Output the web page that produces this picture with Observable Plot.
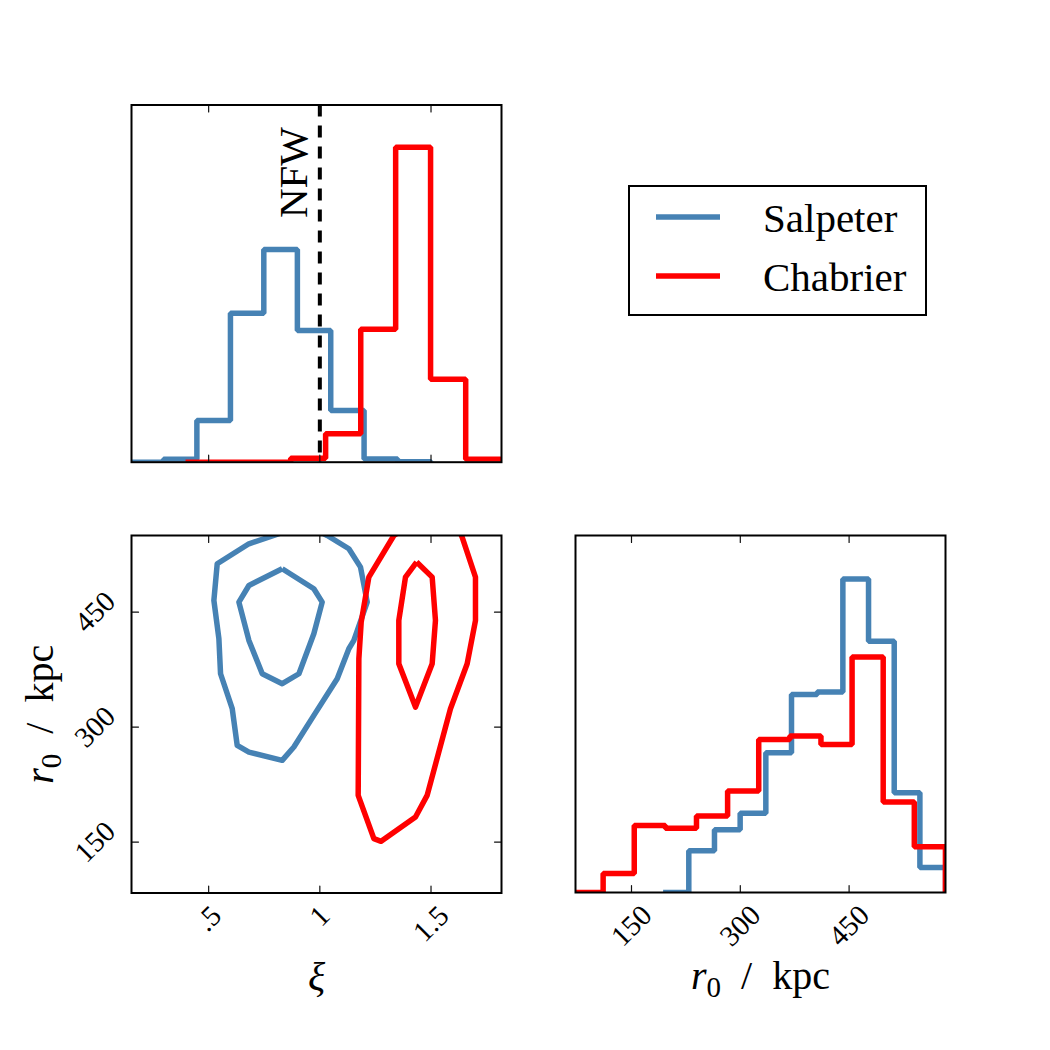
<!DOCTYPE html>
<html>
<head>
<meta charset="utf-8">
<script src="https://cdn.jsdelivr.net/npm/d3@7"></script>
<script src="https://cdn.jsdelivr.net/npm/@observablehq/plot@0.6"></script>
<style>
  html, body { margin: 0; padding: 0; background: #fff; }
  #chart { position: relative; width: 1050px; height: 1050px; background: #fff; }
  #chart > svg { position: absolute; left: 0; top: 0; }
</style>
</head>
<body>
<div id="chart"></div>
<script>
// ---------------- data ----------------
const seriesNames = ["Salpeter", "Chabrier"];
const seriesColors = ["#4682b4", "#ff0000"];

// ξ histogram (bin edges, relative heights)
const xiEdgesSalpeter = [0.146, 0.297, 0.447, 0.598, 0.748, 0.899, 1.049, 1.199, 1.350, 1.500];
const xiHistSalpeter  = [0, 0.0095, 0.132, 0.473, 0.675, 0.418, 0.164, 0.0105, 0.0016];
const xiEdgesChabrier = [0.396, 0.554, 0.711, 0.869, 1.026, 1.184, 1.341, 1.498, 1.656, 1.813];
const xiHistChabrier  = [0, 0, 0, 0.0127, 0.09, 0.422, 1.0, 0.263, 0.0095];

// r0 histogram (bin edges in kpc, relative heights)
const r0EdgesSalpeter = [193.6, 229, 264.4, 299.8, 335.2, 370.6, 406, 441.4, 476.8, 512.2, 547.6, 583];
const r0HistSalpeter  = [0, 0.133, 0.200, 0.253, 0.446, 0.632, 0.640, 1.000, 0.802, 0.318, 0.080];
const r0EdgesChabrier = [68, 110.9, 153.8, 196.7, 239.6, 282.5, 325.4, 368.3, 411.2, 454.1, 497, 539.9, 582.8];
const r0HistChabrier  = [0, 0.061, 0.214, 0.205, 0.244, 0.324, 0.488, 0.499, 0.472, 0.751, 0.289, 0.146];

// 2D contours (ξ, r0)
const salpeterOuterXi = [0.87, 0.7933, 0.681, 0.5385, 0.5235, 0.546, 0.5535, 0.606, 0.6284, 0.681, 0.8308, 0.8832, 0.9732, 1.0781, 1.1305, 1.153, 1.213, 1.183, 1.1305, 1.033, 0.98];
const salpeterOuterR0 = [558, 550, 539.2, 513.1, 465.3, 415.3, 369.6, 324.0, 276.1, 267.4, 256.6, 274.0, 315.3, 363.1, 402.2, 413.1, 463.1, 508.7, 532.7, 550, 558];
const salpeterInnerXi = [0.8308, 0.681, 0.636, 0.681, 0.741, 0.831, 0.906, 0.973, 1.0106, 0.973, 0.8308];
const salpeterInnerR0 = [506.6, 484.8, 463.1, 413.1, 369.6, 356.6, 369.6, 421.8, 463.1, 480.5, 506.6];
const chabrierOuterXi = [1.37, 1.3329, 1.2205, 1.186, 1.1755, 1.1725, 1.243, 1.2756, 1.4302, 1.4826, 1.5875, 1.6626, 1.700, 1.700, 1.640, 1.625];
const chabrierOuterR0 = [557, 550, 495.7, 437.0, 389.2, 210.9, 154.4, 150.9, 182.7, 210.9, 324.0, 382.7, 439.2, 495.7, 547.9, 558];
const chabrierInnerXi = [1.4352, 1.3852, 1.3552, 1.3552, 1.4302, 1.5052, 1.520, 1.5052, 1.4352];
const chabrierInnerR0 = [515.3, 495.7, 439.2, 382.7, 326.1, 382.7, 439.2, 495.7, 515.3];

// reference line
const nfwXi = 1;
const nfwLabel = "NFW";

// axes
const xiDomain = [0.153, 1.817];
const r0Domain = [83.5, 550];
const r0HistDomain = [72.8, 582.9];
const xiHistTop = 1.134;
const r0HistTop = 1.139;
const xiTicks = [0.5, 1, 1.5];
const xiTickLabels = [".5", "1", "1.5"];
const r0Ticks = [150, 300, 450];
const r0TickLabels = ["150", "300", "450"];
const xiLabel = "ξ";
const r0Label = "r0 / kpc";

// ---------------- helpers ----------------
const FONT = '"Liberation Serif", "DejaVu Serif", serif';
const TICK_FS = 29;
const LABEL_FS = 40;
const W = 1050, H = 1050;

function steps(edges, vals) {
  const pts = [{x: edges[0], y: 0}];
  vals.forEach((v, i) => { pts.push({x: edges[i], y: v}); pts.push({x: edges[i + 1], y: v}); });
  pts.push({x: edges[vals.length], y: 0});
  return pts;
}
function poly(xs, ys) { return xs.map((x, i) => ({x, y: ys[i]})); }

function tickMarks(values, side) {
  const rot = {bottom: 0, top: 180, left: 90, right: -90}[side];
  const chan = (side === "bottom" || side === "top") ? {x: d => d} : {y: d => d};
  return Plot.vector(values, {...chan, frameAnchor: side, rotate: rot, length: 7, anchor: "start",
    shape: "spike", r: 0, stroke: "#111", strokeWidth: 1.2});
}
function labelOffset(s) {
  const em = [...s].reduce((a, c) => a + (c === "." ? 0.25 : 0.5), 0);
  return (em * TICK_FS + 0.68 * TICK_FS) / (2 * Math.SQRT2);
}
function xTickLabels(values, labels) {
  return values.map((v, i) => Plot.text([v], {x: d => d, frameAnchor: "bottom", text: () => labels[i],
    rotate: -45, textAnchor: "middle", lineAnchor: "middle", dy: 11 + labelOffset(labels[i]),
    fontSize: TICK_FS, fontFamily: FONT, fill: "#000"}));
}
function yTickLabels(values, labels) {
  return values.map((v, i) => Plot.text([v], {y: d => d, frameAnchor: "left", text: () => labels[i],
    rotate: -45, textAnchor: "middle", lineAnchor: "middle", dx: -(14 + labelOffset(labels[i])),
    fontSize: TICK_FS, fontFamily: FONT, fill: "#000"}));
}
function panel(f, x, y, marks) {
  return Plot.plot({
    width: W, height: H,
    marginLeft: f.left, marginTop: f.top, marginRight: W - f.right, marginBottom: H - f.bottom,
    x: {domain: x, axis: null}, y: {domain: y, axis: null},
    style: {background: "transparent", fontFamily: FONT, overflow: "visible"},
    marks
  });
}
const histLine = (pts, color) => Plot.line(pts, {x: "x", y: "y", stroke: color, strokeWidth: 5.5,
  strokeLinejoin: "miter", strokeLinecap: "butt", clip: true});
const contour = (pts, color) => Plot.line(pts, {x: "x", y: "y", stroke: color, strokeWidth: 5.5,
  strokeLinejoin: "round", strokeLinecap: "butt", clip: true});

const chart = document.getElementById("chart");

// ---------------- panel A: ξ histogram ----------------
const A = panel({left: 131, top: 104.5, right: 501, bottom: 461.7}, xiDomain, [0, xiHistTop], [
  histLine(steps(xiEdgesSalpeter, xiHistSalpeter), seriesColors[0]),
  histLine(steps(xiEdgesChabrier, xiHistChabrier), seriesColors[1]),
  Plot.ruleX([nfwXi], {stroke: "#000", strokeWidth: 4, strokeDasharray: "12,9"}),
  Plot.text([nfwLabel], {x: () => nfwXi, y: () => 0.775, text: d => d, rotate: -90,
    textAnchor: "start", lineAnchor: "middle", dx: -26, fontSize: 41, fontFamily: FONT, fill: "#000"}),
  tickMarks(xiTicks, "bottom"), tickMarks(xiTicks, "top"),
  Plot.frame({stroke: "#000", strokeWidth: 2})
]);
chart.appendChild(A);

// ---------------- panel B: contours ----------------
const B = panel({left: 131, top: 535, right: 501, bottom: 892.5}, xiDomain, r0Domain, [
  contour(poly(salpeterOuterXi, salpeterOuterR0), seriesColors[0]),
  contour(poly(salpeterInnerXi, salpeterInnerR0), seriesColors[0]),
  contour(poly(chabrierOuterXi, chabrierOuterR0), seriesColors[1]),
  contour(poly(chabrierInnerXi, chabrierInnerR0), seriesColors[1]),
  tickMarks(xiTicks, "bottom"), tickMarks(xiTicks, "top"),
  tickMarks(r0Ticks, "left"), tickMarks(r0Ticks, "right"),
  ...xTickLabels(xiTicks, xiTickLabels),
  ...yTickLabels(r0Ticks, r0TickLabels),
  Plot.text([xiLabel], {frameAnchor: "bottom", text: d => d, dy: 84, textAnchor: "middle", lineAnchor: "middle",
    fontSize: LABEL_FS, fontStyle: "italic", fontFamily: FONT, fill: "#000"}),
  Plot.text([r0Label], {frameAnchor: "left", text: d => d, dx: -91, rotate: -90, textAnchor: "middle", lineAnchor: "middle",
    fontSize: LABEL_FS, fontFamily: FONT, fill: "#000"}),
  Plot.frame({stroke: "#000", strokeWidth: 2})
]);
chart.appendChild(B);

// ---------------- panel C: r0 histogram ----------------
const C = panel({left: 575, top: 535, right: 945, bottom: 892}, r0HistDomain, [0, r0HistTop], [
  histLine(steps(r0EdgesSalpeter, r0HistSalpeter), seriesColors[0]),
  histLine(steps(r0EdgesChabrier, r0HistChabrier), seriesColors[1]),
  tickMarks(r0Ticks, "bottom"), tickMarks(r0Ticks, "top"),
  ...xTickLabels(r0Ticks, r0TickLabels),
  Plot.text([r0Label], {frameAnchor: "bottom", text: d => d, dy: 84, textAnchor: "middle", lineAnchor: "middle",
    fontSize: LABEL_FS, fontFamily: FONT, fill: "#000"}),
  Plot.frame({stroke: "#000", strokeWidth: 2})
]);
chart.appendChild(C);

// r0 label with italic r and subscript 0
[B, C].forEach(svg => {
  d3.select(svg).selectAll("text").each(function() {
    if (this.textContent === r0Label) {
      const t = d3.select(this);
      t.text("");
      t.append("tspan").attr("font-style", "italic").text("r");
      t.append("tspan").attr("font-size", "29px").attr("dy", "8").text("0");
      t.append("tspan").attr("dy", "-8").text("\u2002/\u2002kpc");
    }
  });
});

// ---------------- legend ----------------
const leg = d3.select(chart).append("svg")
  .attr("width", 320).attr("height", 150)
  .style("left", "620px").style("top", "176px").style("position", "absolute");
leg.append("rect").attr("x", 9).attr("y", 10).attr("width", 297).attr("height", 129)
  .attr("fill", "#fff").attr("stroke", "#000").attr("stroke-width", 2);
seriesNames.forEach((name, i) => {
  const cy = 41 + i * 59;
  leg.append("line").attr("x1", 36).attr("x2", 100).attr("y1", cy).attr("y2", cy)
    .attr("stroke", seriesColors[i]).attr("stroke-width", 5.5);
  leg.append("text").attr("x", 143).attr("y", cy + 15).attr("font-family", FONT)
    .attr("font-size", 41).attr("fill", "#000").text(name);
});
</script>
</body>
</html>
